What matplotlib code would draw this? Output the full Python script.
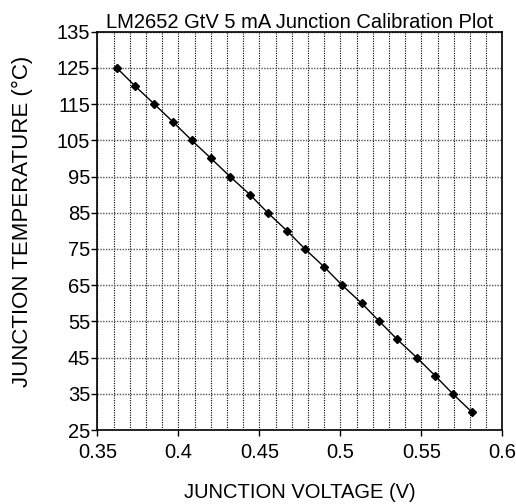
import matplotlib
matplotlib.use("Agg")
import matplotlib.pyplot as plt
from matplotlib.ticker import MultipleLocator

# junction calibration data
temps = [125, 120, 115, 110, 105, 100, 95, 90, 85, 80,
         75, 70, 65, 60, 55, 50, 45, 40, 35, 30]
volts = [0.3620, 0.3733, 0.3852, 0.3969, 0.4083, 0.4202, 0.4319, 0.4442,
         0.4552, 0.4671, 0.4782, 0.4901, 0.5011, 0.5132, 0.5241, 0.5352,
         0.5472, 0.5585, 0.5694, 0.5811]

x_ticks = [0.35, 0.4, 0.45, 0.5, 0.55, 0.6]
x_tick_labels = ["0.35", "0.4", "0.45", "0.5", "0.55", "0.6"]
y_ticks = [25, 35, 45, 55, 65, 75, 85, 95, 105, 115, 125, 135]

plt.rcParams['font.family'] = ['Liberation Sans', 'DejaVu Sans']

fig = plt.figure(figsize=(5.16, 5.04), dpi=100)
ax = fig.add_axes([0.1886, 0.1468, 0.7849, 0.7903])

ax.set_xlim(0.35, 0.6)
ax.set_ylim(25, 135)

# gridlines: vertical every 0.01, horizontal every 10
ax.xaxis.set_minor_locator(MultipleLocator(0.01))
ax.set_xticks(x_ticks)
ax.set_xticklabels(x_tick_labels)
ax.set_yticks(y_ticks)
ax.grid(True, which='both', axis='x', color='black', linestyle=(0, (1, 1.2)), linewidth=0.8)
ax.grid(True, which='major', axis='y', color='#555555', linestyle=(0, (1, 1)), linewidth=1.0)
ax.set_axisbelow(True)

ax.tick_params(axis='both', which='major', direction='out', length=4, width=1,
               labelsize=14.5, pad=1, color='black')
ax.tick_params(axis='x', which='major', pad=5)
ax.tick_params(axis='x', which='minor', length=0)

ax.plot(volts, temps, color='black', linewidth=1.0, marker='D', markersize=4.5,
        markerfacecolor='black', markeredgecolor='black', zorder=3)

for sp in ax.spines.values():
    sp.set_linewidth(1.2)
    sp.set_color('black')

ax.set_title('LM2652 GtV 5 mA Junction Calibration Plot', fontsize=14.5, pad=3)
ax.set_xlabel('JUNCTION VOLTAGE (V)', fontsize=14.5)
ax.xaxis.set_label_coords(0.5, -0.132)
ax.set_ylabel('JUNCTION TEMPERATURE (°C)', fontsize=16)
ax.yaxis.set_label_coords(-0.16, 0.524)

fig.savefig('out.png', dpi=100)
